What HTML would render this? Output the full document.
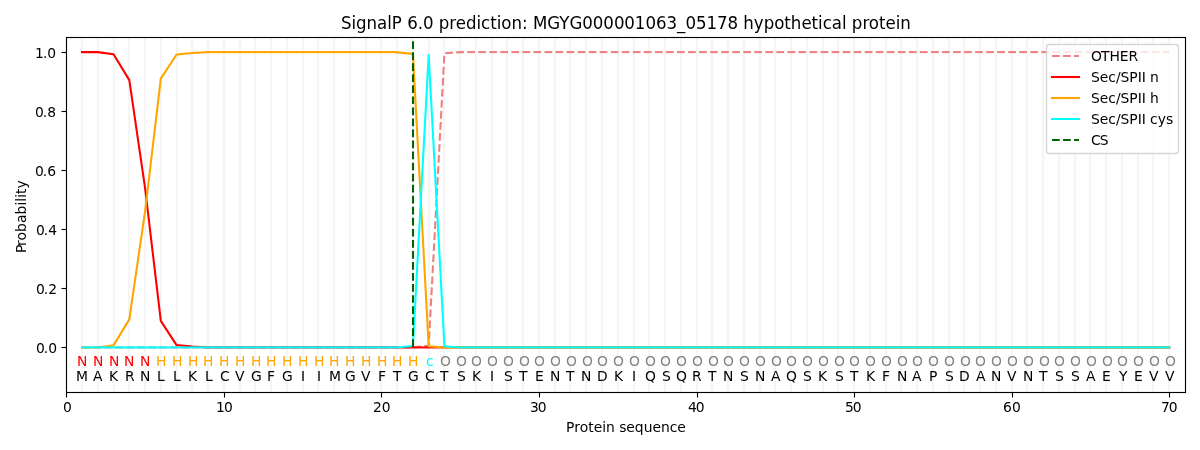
<!DOCTYPE html>
<html lang="en">
<head>
<meta charset="utf-8">
<title>SignalP 6.0 prediction: MGYG000001063_05178 hypothetical protein</title>
<style>
html,body{margin:0;padding:0;background:#fff;}
body{width:1200px;height:450px;overflow:hidden;}
svg{display:block;}
</style>
</head>
<body>
<svg width="1200" height="450" viewBox="0 0 1200 450">
<rect width="1200" height="450" fill="#fff"/>
<path d="M82 37V392M98 37V392M114 37V392M129 37V392M145 37V392M161 37V392M177 37V392M192 37V392M208 37V392M224 37V392M240 37V392M255 37V392M271 37V392M287 37V392M303 37V392M318 37V392M334 37V392M350 37V392M366 37V392M381 37V392M397 37V392M413 37V392M429 37V392M444 37V392M460 37V392M476 37V392M492 37V392M507 37V392M523 37V392M539 37V392M555 37V392M570 37V392M586 37V392M602 37V392M618 37V392M634 37V392M649 37V392M665 37V392M681 37V392M697 37V392M712 37V392M728 37V392M744 37V392M760 37V392M775 37V392M791 37V392M807 37V392M823 37V392M838 37V392M854 37V392M870 37V392M886 37V392M901 37V392M917 37V392M933 37V392M949 37V392M964 37V392M980 37V392M996 37V392M1012 37V392M1027 37V392M1043 37V392M1059 37V392M1075 37V392M1090 37V392M1106 37V392M1122 37V392M1138 37V392M1153 37V392M1169 37V392" stroke="#fefefe" stroke-width="4" fill="none"/>
<path d="M82 37V392M98 37V392M114 37V392M129 37V392M145 37V392M161 37V392M177 37V392M192 37V392M208 37V392M224 37V392M240 37V392M255 37V392M271 37V392M287 37V392M303 37V392M318 37V392M334 37V392M350 37V392M366 37V392M381 37V392M397 37V392M413 37V392M429 37V392M444 37V392M460 37V392M476 37V392M492 37V392M507 37V392M523 37V392M539 37V392M555 37V392M570 37V392M586 37V392M602 37V392M618 37V392M634 37V392M649 37V392M665 37V392M681 37V392M697 37V392M712 37V392M728 37V392M744 37V392M760 37V392M775 37V392M791 37V392M807 37V392M823 37V392M838 37V392M854 37V392M870 37V392M886 37V392M901 37V392M917 37V392M933 37V392M949 37V392M964 37V392M980 37V392M996 37V392M1012 37V392M1027 37V392M1043 37V392M1059 37V392M1075 37V392M1090 37V392M1106 37V392M1122 37V392M1138 37V392M1153 37V392M1169 37V392" stroke="#f5f5f5" stroke-width="2.08" fill="none"/>
<g fill="none" stroke-width="2.08" stroke-linejoin="round">
<path d="M82.03 347.42H89.74" stroke="#f08080"/>
<path d="M93.08 347.42H100.78" stroke="#f08080"/>
<path d="M104.12 347.42H111.83" stroke="#f08080"/>
<path d="M115.16 347.42H122.87" stroke="#f08080"/>
<path d="M126.2 347.42H133.91" stroke="#f08080"/>
<path d="M137.24 347.42H144.95" stroke="#f08080"/>
<path d="M148.28 347.42H155.99" stroke="#f08080"/>
<path d="M159.33 347.42H167.03" stroke="#f08080"/>
<path d="M170.37 347.42H178.08" stroke="#f08080"/>
<path d="M181.41 347.42H189.12" stroke="#f08080"/>
<path d="M192.45 347.42H200.16" stroke="#f08080"/>
<path d="M203.49 347.42H211.2" stroke="#f08080"/>
<path d="M214.53 347.42H222.24" stroke="#f08080"/>
<path d="M225.58 347.42H233.28" stroke="#f08080"/>
<path d="M236.62 347.42H244.33" stroke="#f08080"/>
<path d="M247.66 347.42H255.37" stroke="#f08080"/>
<path d="M258.7 347.42H266.41" stroke="#f08080"/>
<path d="M269.74 347.42H277.45" stroke="#f08080"/>
<path d="M280.78 347.42H288.49" stroke="#f08080"/>
<path d="M291.83 347.42H299.53" stroke="#f08080"/>
<path d="M302.87 347.42H310.58" stroke="#f08080"/>
<path d="M313.91 347.42H321.62" stroke="#f08080"/>
<path d="M324.95 347.42H332.66" stroke="#f08080"/>
<path d="M335.99 347.42H343.7" stroke="#f08080"/>
<path d="M347.03 347.42H354.74" stroke="#f08080"/>
<path d="M358.08 347.42H365.78" stroke="#f08080"/>
<path d="M369.12 347.42H376.83" stroke="#f08080"/>
<path d="M380.16 347.42H387.87" stroke="#f08080"/>
<path d="M391.2 347.42H398.91" stroke="#f08080"/>
<path d="M402.24 347.42H409.95" stroke="#f08080"/>
<polyline points="413.28,347.39 420.95,346.6" stroke="#f08080"/>
<polyline points="424.27,346.25 428.68,345.8 428.86,342.53" stroke="#f08080"/>
<polyline points="429.04,339.21 429.45,331.51" stroke="#f08080"/>
<polyline points="429.63,328.18 430.04,320.48" stroke="#f08080"/>
<polyline points="430.22,317.15 430.64,309.46" stroke="#f08080"/>
<polyline points="430.82,306.13 431.23,298.43" stroke="#f08080"/>
<polyline points="431.41,295.1 431.83,287.41" stroke="#f08080"/>
<polyline points="432.01,284.08 432.42,276.38" stroke="#f08080"/>
<polyline points="432.6,273.05 433.01,265.35" stroke="#f08080"/>
<polyline points="433.19,262.03 433.61,254.33" stroke="#f08080"/>
<polyline points="433.79,251 434.2,243.3" stroke="#f08080"/>
<polyline points="434.38,239.97 434.8,232.28" stroke="#f08080"/>
<polyline points="434.97,228.95 435.39,221.25" stroke="#f08080"/>
<polyline points="435.57,217.92 435.98,210.23" stroke="#f08080"/>
<polyline points="436.16,206.9 436.58,199.2" stroke="#f08080"/>
<polyline points="436.76,195.87 437.17,188.17" stroke="#f08080"/>
<polyline points="437.35,184.85 437.77,177.15" stroke="#f08080"/>
<polyline points="437.94,173.82 438.36,166.12" stroke="#f08080"/>
<polyline points="438.54,162.79 438.95,155.1" stroke="#f08080"/>
<polyline points="439.13,151.77 439.55,144.07" stroke="#f08080"/>
<polyline points="439.73,140.74 440.14,133.05" stroke="#f08080"/>
<polyline points="440.32,129.72 440.73,122.02" stroke="#f08080"/>
<polyline points="440.91,118.69 441.33,110.99" stroke="#f08080"/>
<polyline points="441.51,107.67 441.92,99.97" stroke="#f08080"/>
<polyline points="442.1,96.64 442.52,88.94" stroke="#f08080"/>
<polyline points="442.7,85.61 443.11,77.92" stroke="#f08080"/>
<polyline points="443.29,74.59 443.7,66.89" stroke="#f08080"/>
<polyline points="443.88,63.56 444.3,55.87" stroke="#f08080"/>
<polyline points="445.18,53.23 452.87,52.65" stroke="#f08080"/>
<polyline points="456.19,52.4 460.19,52.1 463.89,52.1" stroke="#f08080"/>
<path d="M467.22 52.1H474.93" stroke="#f08080"/>
<path d="M478.26 52.1H485.97" stroke="#f08080"/>
<path d="M489.3 52.1H497.01" stroke="#f08080"/>
<path d="M500.35 52.1H508.05" stroke="#f08080"/>
<path d="M511.39 52.1H519.1" stroke="#f08080"/>
<path d="M522.43 52.1H530.14" stroke="#f08080"/>
<path d="M533.47 52.1H541.18" stroke="#f08080"/>
<path d="M544.51 52.1H552.22" stroke="#f08080"/>
<path d="M555.55 52.1H563.26" stroke="#f08080"/>
<path d="M566.6 52.1H574.3" stroke="#f08080"/>
<path d="M577.64 52.1H585.35" stroke="#f08080"/>
<path d="M588.68 52.1H596.39" stroke="#f08080"/>
<path d="M599.72 52.1H607.43" stroke="#f08080"/>
<path d="M610.76 52.1H618.47" stroke="#f08080"/>
<path d="M621.8 52.1H629.51" stroke="#f08080"/>
<path d="M632.85 52.1H640.55" stroke="#f08080"/>
<path d="M643.89 52.1H651.6" stroke="#f08080"/>
<path d="M654.93 52.1H662.64" stroke="#f08080"/>
<path d="M665.97 52.1H673.68" stroke="#f08080"/>
<path d="M677.01 52.1H684.72" stroke="#f08080"/>
<path d="M688.05 52.1H695.76" stroke="#f08080"/>
<path d="M699.1 52.1H706.8" stroke="#f08080"/>
<path d="M710.14 52.1H717.85" stroke="#f08080"/>
<path d="M721.18 52.1H728.89" stroke="#f08080"/>
<path d="M732.22 52.1H739.93" stroke="#f08080"/>
<path d="M743.26 52.1H750.97" stroke="#f08080"/>
<path d="M754.3 52.1H762.01" stroke="#f08080"/>
<path d="M765.35 52.1H773.05" stroke="#f08080"/>
<path d="M776.39 52.1H784.1" stroke="#f08080"/>
<path d="M787.43 52.1H795.14" stroke="#f08080"/>
<path d="M798.47 52.1H806.18" stroke="#f08080"/>
<path d="M809.51 52.1H817.22" stroke="#f08080"/>
<path d="M820.55 52.1H828.26" stroke="#f08080"/>
<path d="M831.6 52.1H839.3" stroke="#f08080"/>
<path d="M842.64 52.1H850.35" stroke="#f08080"/>
<path d="M853.68 52.1H861.39" stroke="#f08080"/>
<path d="M864.72 52.1H872.43" stroke="#f08080"/>
<path d="M875.76 52.1H883.47" stroke="#f08080"/>
<path d="M886.8 52.1H894.51" stroke="#f08080"/>
<path d="M897.85 52.1H905.55" stroke="#f08080"/>
<path d="M908.89 52.1H916.6" stroke="#f08080"/>
<path d="M919.93 52.1H927.64" stroke="#f08080"/>
<path d="M930.97 52.1H938.68" stroke="#f08080"/>
<path d="M942.01 52.1H949.72" stroke="#f08080"/>
<path d="M953.05 52.1H960.76" stroke="#f08080"/>
<path d="M964.1 52.1H971.8" stroke="#f08080"/>
<path d="M975.14 52.1H982.85" stroke="#f08080"/>
<path d="M986.18 52.1H993.89" stroke="#f08080"/>
<path d="M997.22 52.1H1004.93" stroke="#f08080"/>
<path d="M1008.26 52.1H1015.97" stroke="#f08080"/>
<path d="M1019.3 52.1H1027.01" stroke="#f08080"/>
<path d="M1030.35 52.1H1038.05" stroke="#f08080"/>
<path d="M1041.39 52.1H1049.1" stroke="#f08080"/>
<path d="M1052.43 52.1H1060.14" stroke="#f08080"/>
<path d="M1063.47 52.1H1071.18" stroke="#f08080"/>
<path d="M1074.51 52.1H1082.22" stroke="#f08080"/>
<path d="M1085.55 52.1H1093.26" stroke="#f08080"/>
<path d="M1096.6 52.1H1104.3" stroke="#f08080"/>
<path d="M1107.64 52.1H1115.35" stroke="#f08080"/>
<path d="M1118.68 52.1H1126.39" stroke="#f08080"/>
<path d="M1129.72 52.1H1137.43" stroke="#f08080"/>
<path d="M1140.76 52.1H1148.47" stroke="#f08080"/>
<path d="M1151.8 52.1H1159.51" stroke="#f08080"/>
<path d="M1162.85 52.1H1169.24" stroke="#f08080"/>
<polyline points="80.99,52.1 97.79,52.1 113.55,54.17 129.3,80.16 145.06,187.95 160.82,320.84 176.57,345.06 192.33,346.54 208.09,347.42 211,347.42" stroke="#ff0000"/>
<path d="M211 347.42H241" stroke="#ff0000"/>
<path d="M241 347.42H271" stroke="#ff0000"/>
<path d="M271 347.42H301" stroke="#ff0000"/>
<path d="M301 347.42H331" stroke="#ff0000"/>
<path d="M331 347.42H361" stroke="#ff0000"/>
<path d="M361 347.42H391" stroke="#ff0000"/>
<path d="M391 347.42H421" stroke="#ff0000"/>
<path d="M421 347.42H451" stroke="#ff0000"/>
<path d="M451 347.42H481" stroke="#ff0000"/>
<path d="M481 347.42H511" stroke="#ff0000"/>
<path d="M511 347.42H541" stroke="#ff0000"/>
<path d="M541 347.42H571" stroke="#ff0000"/>
<path d="M571 347.42H601" stroke="#ff0000"/>
<path d="M601 347.42H631" stroke="#ff0000"/>
<path d="M631 347.42H661" stroke="#ff0000"/>
<path d="M661 347.42H691" stroke="#ff0000"/>
<path d="M691 347.42H721" stroke="#ff0000"/>
<path d="M721 347.42H751" stroke="#ff0000"/>
<path d="M751 347.42H781" stroke="#ff0000"/>
<path d="M781 347.42H811" stroke="#ff0000"/>
<path d="M811 347.42H841" stroke="#ff0000"/>
<path d="M841 347.42H871" stroke="#ff0000"/>
<path d="M871 347.42H901" stroke="#ff0000"/>
<path d="M901 347.42H931" stroke="#ff0000"/>
<path d="M931 347.42H961" stroke="#ff0000"/>
<path d="M961 347.42H991" stroke="#ff0000"/>
<path d="M991 347.42H1021" stroke="#ff0000"/>
<path d="M1021 347.42H1051" stroke="#ff0000"/>
<path d="M1051 347.42H1081" stroke="#ff0000"/>
<path d="M1081 347.42H1111" stroke="#ff0000"/>
<path d="M1111 347.42H1141" stroke="#ff0000"/>
<path d="M1141 347.42H1170.29" stroke="#ff0000"/>
<polyline points="80.99,347.42 97.79,347.42 113.55,345.36 129.3,319.37 145.06,211.57 160.82,78.68 176.57,54.46 192.33,52.99 208.09,52.1 211,52.1" stroke="#ffa500"/>
<path d="M211 52.1H241" stroke="#ffa500"/>
<path d="M241 52.1H271" stroke="#ffa500"/>
<path d="M271 52.1H301" stroke="#ffa500"/>
<path d="M301 52.1H331" stroke="#ffa500"/>
<path d="M331 52.1H361" stroke="#ffa500"/>
<path d="M361 52.1H391" stroke="#ffa500"/>
<path d="M391 52.1H395" stroke="#ffa500"/>
<polyline points="395,52.1 412.92,53.87 428.68,346.24 444.44,347.42 447,347.42" stroke="#ffa500"/>
<path d="M447 347.42H477" stroke="#ffa500"/>
<path d="M477 347.42H507" stroke="#ffa500"/>
<path d="M507 347.42H537" stroke="#ffa500"/>
<path d="M537 347.42H567" stroke="#ffa500"/>
<path d="M567 347.42H597" stroke="#ffa500"/>
<path d="M597 347.42H627" stroke="#ffa500"/>
<path d="M627 347.42H657" stroke="#ffa500"/>
<path d="M657 347.42H687" stroke="#ffa500"/>
<path d="M687 347.42H717" stroke="#ffa500"/>
<path d="M717 347.42H747" stroke="#ffa500"/>
<path d="M747 347.42H777" stroke="#ffa500"/>
<path d="M777 347.42H807" stroke="#ffa500"/>
<path d="M807 347.42H837" stroke="#ffa500"/>
<path d="M837 347.42H867" stroke="#ffa500"/>
<path d="M867 347.42H897" stroke="#ffa500"/>
<path d="M897 347.42H927" stroke="#ffa500"/>
<path d="M927 347.42H957" stroke="#ffa500"/>
<path d="M957 347.42H987" stroke="#ffa500"/>
<path d="M987 347.42H1017" stroke="#ffa500"/>
<path d="M1017 347.42H1047" stroke="#ffa500"/>
<path d="M1047 347.42H1077" stroke="#ffa500"/>
<path d="M1077 347.42H1107" stroke="#ffa500"/>
<path d="M1107 347.42H1137" stroke="#ffa500"/>
<path d="M1137 347.42H1167" stroke="#ffa500"/>
<path d="M1167 347.42H1170.29" stroke="#ffa500"/>
<path d="M80.99 347.42H110" stroke="#00ffff"/>
<path d="M110 347.42H140" stroke="#00ffff"/>
<path d="M140 347.42H170" stroke="#00ffff"/>
<path d="M170 347.42H200" stroke="#00ffff"/>
<path d="M200 347.42H230" stroke="#00ffff"/>
<path d="M230 347.42H260" stroke="#00ffff"/>
<path d="M260 347.42H290" stroke="#00ffff"/>
<path d="M290 347.42H320" stroke="#00ffff"/>
<path d="M320 347.42H350" stroke="#00ffff"/>
<path d="M350 347.42H380" stroke="#00ffff"/>
<path d="M380 347.42H395" stroke="#00ffff"/>
<polyline points="395,347.42 412.92,345.95 428.68,55.05 444.44,346.24 460.19,347.42 463,347.42" stroke="#00ffff"/>
<path d="M463 347.42H493" stroke="#00ffff"/>
<path d="M493 347.42H523" stroke="#00ffff"/>
<path d="M523 347.42H553" stroke="#00ffff"/>
<path d="M553 347.42H583" stroke="#00ffff"/>
<path d="M583 347.42H613" stroke="#00ffff"/>
<path d="M613 347.42H643" stroke="#00ffff"/>
<path d="M643 347.42H673" stroke="#00ffff"/>
<path d="M673 347.42H703" stroke="#00ffff"/>
<path d="M703 347.42H733" stroke="#00ffff"/>
<path d="M733 347.42H763" stroke="#00ffff"/>
<path d="M763 347.42H793" stroke="#00ffff"/>
<path d="M793 347.42H823" stroke="#00ffff"/>
<path d="M823 347.42H853" stroke="#00ffff"/>
<path d="M853 347.42H883" stroke="#00ffff"/>
<path d="M883 347.42H913" stroke="#00ffff"/>
<path d="M913 347.42H943" stroke="#00ffff"/>
<path d="M943 347.42H973" stroke="#00ffff"/>
<path d="M973 347.42H1003" stroke="#00ffff"/>
<path d="M1003 347.42H1033" stroke="#00ffff"/>
<path d="M1033 347.42H1063" stroke="#00ffff"/>
<path d="M1063 347.42H1093" stroke="#00ffff"/>
<path d="M1093 347.42H1123" stroke="#00ffff"/>
<path d="M1123 347.42H1153" stroke="#00ffff"/>
<path d="M1153 347.42H1170.29" stroke="#00ffff"/>
<path d="M413 347V37.33" stroke="#006400" stroke-dasharray="7.708 3.333"/>
</g>
<g stroke="#000" stroke-width="1.11" fill="none">
<path d="M66.5 392.5v5M224.5 392.5v5M381.5 392.5v5M539.5 392.5v5M697.5 392.5v5M854.5 392.5v5M1012.5 392.5v5M1169.5 392.5v5"/>
<path d="M66.5 347.5h-5"/>
<path d="M66.5 288.5h-5"/>
<path d="M66.5 229.5h-5"/>
<path d="M66.5 170.5h-5"/>
<path d="M66.5 111.5h-5"/>
<path d="M66.5 52.5h-5"/>
<path d="M65.94 392.5H1186.06M65.94 37.5H1186.06" stroke-width="3" stroke-opacity="0.056"/>
<path d="M66.5 392.5V37.5M1185.5 392.5V37.5M66.5 392.5H1185.5M66.5 37.5H1185.5" stroke-linecap="square"/>
</g>
<rect x="1046.5" y="44.5" width="132" height="109" rx="3" fill="#fff" fill-opacity="0.8" stroke="#ccc" stroke-opacity="0.8" stroke-width="1.39"/>
<g fill="none" stroke-width="2.08">
<path d="M1052 56H1079" stroke="#f08080" stroke-dasharray="7.708 3.333"/>
<path d="M1052 77H1079" stroke="#ff0000" stroke-linecap="square"/>
<path d="M1052 98H1079" stroke="#ffa500" stroke-linecap="square"/>
<path d="M1052 119H1079" stroke="#00ffff" stroke-linecap="square"/>
<path d="M1052 140H1079" stroke="#006400" stroke-dasharray="7.708 3.333"/>
</g>
<g font-family="'DejaVu Sans', 'Liberation Sans', sans-serif" font-size="13.89">
<text x="63" y="412">0</text>
<text x="216 223.875" y="412">10</text>
<text x="373 381.75" y="412">20</text>
<text x="530 537.75" y="412">30</text>
<text x="688 695.75" y="412">40</text>
<text x="845 852.75" y="412">50</text>
<text x="1003 1011.875" y="412">60</text>
<text x="1161 1168.75" y="412">70</text>
<text x="566 574.125 579.625 588.125 593.625 602.125 606 614.75 619.125 626.25 634.75 643.625 652.375 660.875 669.625 677.25" y="432">Protein sequence</text>
<text x="36 43.75 48.125" y="353">0.0</text>
<text x="36 43.75 48.125" y="294">0.2</text>
<text x="36 43.75 48.125" y="235">0.4</text>
<text x="35 42.75 47.125" y="176">0.6</text>
<text x="35 42.75 47.125" y="117">0.8</text>
<text x="35 42.875 47.25" y="58">1.0</text>
<text transform="translate(26 0) rotate(-90)" x="-253 -245.875 -240.375 -231.875 -223 -214.375 -205.5 -201.625 -197.75 -193.875 -188.375" y="0">Probability</text>
<text x="77" y="366" fill="#ff0000">N</text>
<text x="76" y="381">M</text>
<text x="93" y="366" fill="#ff0000">N</text>
<text x="93" y="381">A</text>
<text x="109" y="366" fill="#ff0000">N</text>
<text x="109" y="381">K</text>
<text x="124" y="366" fill="#ff0000">N</text>
<text x="125" y="381">R</text>
<text x="140" y="366" fill="#ff0000">N</text>
<text x="140" y="381">N</text>
<text x="156" y="366" fill="#ffa500">H</text>
<text x="157" y="381">L</text>
<text x="172" y="366" fill="#ffa500">H</text>
<text x="173" y="381">L</text>
<text x="188" y="366" fill="#ffa500">H</text>
<text x="188" y="381">K</text>
<text x="203" y="366" fill="#ffa500">H</text>
<text x="205" y="381">L</text>
<text x="219" y="366" fill="#ffa500">H</text>
<text x="220" y="381">C</text>
<text x="235" y="366" fill="#ffa500">H</text>
<text x="235" y="381">V</text>
<text x="251" y="366" fill="#ffa500">H</text>
<text x="251" y="381">G</text>
<text x="266" y="366" fill="#ffa500">H</text>
<text x="267" y="381">F</text>
<text x="282" y="366" fill="#ffa500">H</text>
<text x="282" y="381">G</text>
<text x="298" y="366" fill="#ffa500">H</text>
<text x="301" y="381">I</text>
<text x="314" y="366" fill="#ffa500">H</text>
<text x="317" y="381">I</text>
<text x="329" y="366" fill="#ffa500">H</text>
<text x="329" y="381">M</text>
<text x="345" y="366" fill="#ffa500">H</text>
<text x="345" y="381">G</text>
<text x="361" y="366" fill="#ffa500">H</text>
<text x="361" y="381">V</text>
<text x="377" y="366" fill="#ffa500">H</text>
<text x="378" y="381">F</text>
<text x="392" y="366" fill="#ffa500">H</text>
<text x="393" y="381">T</text>
<text x="408" y="366" fill="#ffa500">H</text>
<text x="408" y="381">G</text>
<text x="426" y="366" fill="#00ffff">c</text>
<text x="425" y="381">C</text>
<text x="440" y="366" fill="#808080">O</text>
<text x="440" y="381">T</text>
<text x="456" y="366" fill="#808080">O</text>
<text x="457" y="381">S</text>
<text x="471" y="366" fill="#808080">O</text>
<text x="472" y="381">K</text>
<text x="487" y="366" fill="#808080">O</text>
<text x="490" y="381">I</text>
<text x="503" y="366" fill="#808080">O</text>
<text x="504" y="381">S</text>
<text x="519" y="366" fill="#808080">O</text>
<text x="519" y="381">T</text>
<text x="534" y="366" fill="#808080">O</text>
<text x="535" y="381">E</text>
<text x="550" y="366" fill="#808080">O</text>
<text x="550" y="381">N</text>
<text x="566" y="366" fill="#808080">O</text>
<text x="566" y="381">T</text>
<text x="582" y="366" fill="#808080">O</text>
<text x="581" y="381">N</text>
<text x="597" y="366" fill="#808080">O</text>
<text x="597" y="381">D</text>
<text x="613" y="366" fill="#808080">O</text>
<text x="614" y="381">K</text>
<text x="629" y="366" fill="#808080">O</text>
<text x="632" y="381">I</text>
<text x="645" y="366" fill="#808080">O</text>
<text x="645" y="381">Q</text>
<text x="660" y="366" fill="#808080">O</text>
<text x="662" y="381">S</text>
<text x="676" y="366" fill="#808080">O</text>
<text x="676" y="381">Q</text>
<text x="692" y="366" fill="#808080">O</text>
<text x="692" y="381">R</text>
<text x="708" y="366" fill="#808080">O</text>
<text x="708" y="381">T</text>
<text x="723" y="366" fill="#808080">O</text>
<text x="723" y="381">N</text>
<text x="739" y="366" fill="#808080">O</text>
<text x="740" y="381">S</text>
<text x="755" y="366" fill="#808080">O</text>
<text x="755" y="381">N</text>
<text x="771" y="366" fill="#808080">O</text>
<text x="771" y="381">A</text>
<text x="786" y="366" fill="#808080">O</text>
<text x="786" y="381">Q</text>
<text x="802" y="366" fill="#808080">O</text>
<text x="803" y="381">S</text>
<text x="818" y="366" fill="#808080">O</text>
<text x="818" y="381">K</text>
<text x="834" y="366" fill="#808080">O</text>
<text x="835" y="381">S</text>
<text x="849" y="366" fill="#808080">O</text>
<text x="850" y="381">T</text>
<text x="865" y="366" fill="#808080">O</text>
<text x="866" y="381">K</text>
<text x="881" y="366" fill="#808080">O</text>
<text x="882" y="381">F</text>
<text x="897" y="366" fill="#808080">O</text>
<text x="897" y="381">N</text>
<text x="912" y="366" fill="#808080">O</text>
<text x="912" y="381">A</text>
<text x="928" y="366" fill="#808080">O</text>
<text x="929" y="381">P</text>
<text x="944" y="366" fill="#808080">O</text>
<text x="945" y="381">S</text>
<text x="960" y="366" fill="#808080">O</text>
<text x="959" y="381">D</text>
<text x="975" y="366" fill="#808080">O</text>
<text x="976" y="381">A</text>
<text x="991" y="366" fill="#808080">O</text>
<text x="991" y="381">N</text>
<text x="1007" y="366" fill="#808080">O</text>
<text x="1007" y="381">V</text>
<text x="1023" y="366" fill="#808080">O</text>
<text x="1023" y="381">N</text>
<text x="1039" y="366" fill="#808080">O</text>
<text x="1039" y="381">T</text>
<text x="1054" y="366" fill="#808080">O</text>
<text x="1055" y="381">S</text>
<text x="1070" y="366" fill="#808080">O</text>
<text x="1071" y="381">S</text>
<text x="1086" y="366" fill="#808080">O</text>
<text x="1086" y="381">A</text>
<text x="1102" y="366" fill="#808080">O</text>
<text x="1102" y="381">E</text>
<text x="1117" y="366" fill="#808080">O</text>
<text x="1119" y="381">Y</text>
<text x="1133" y="366" fill="#808080">O</text>
<text x="1134" y="381">E</text>
<text x="1149" y="366" fill="#808080">O</text>
<text x="1149" y="381">V</text>
<text x="1165" y="366" fill="#808080">O</text>
<text x="1165" y="381">V</text>
<text transform="scale(0.93897 1)" font-size="17.75" x="363.165 374.348 379.273 390.456 401.638 412.421 417.347 428.13 433.721 444.904 450.495 461.678 467.269 478.451 485.374 496.29 507.473 512.398 522.116 529.039 533.964 544.748 555.93 562.054 567.645 582.954 595.734 606.518 620.229 631.412 642.594 653.777 664.959 676.142 687.458 698.64 709.823 721.138 730.058 741.24 752.423 763.738 774.921 786.103 791.694 802.877 813.394 824.576 835.359 842.282 853.464 864.381 871.303 876.229 885.947 896.73 901.656 907.247 918.429 925.352 936.135 943.058 953.974 958.899" y="29">SignalP 6.0 prediction: MGYG000001063_05178 hypothetical protein</text>
<text x="1091 1100.875 1109.375 1119.75 1128.5" y="61">OTHER</text>
<text x="1091 1099.75 1108.25 1115.875 1120.5 1129.25 1137.625 1141.625 1145.625 1150" y="82">Sec/SPII n</text>
<text x="1091 1099.75 1108.25 1115.875 1120.5 1129.25 1137.625 1141.625 1145.625 1150" y="103">Sec/SPII h</text>
<text x="1091 1099.75 1108.25 1115.875 1120.5 1129.25 1137.625 1141.625 1145.625 1150 1157.625 1165.875" y="124">Sec/SPII cys</text>
<text x="1091 1099.75" y="145">CS</text>
</g>
</svg>
</body>
</html>
